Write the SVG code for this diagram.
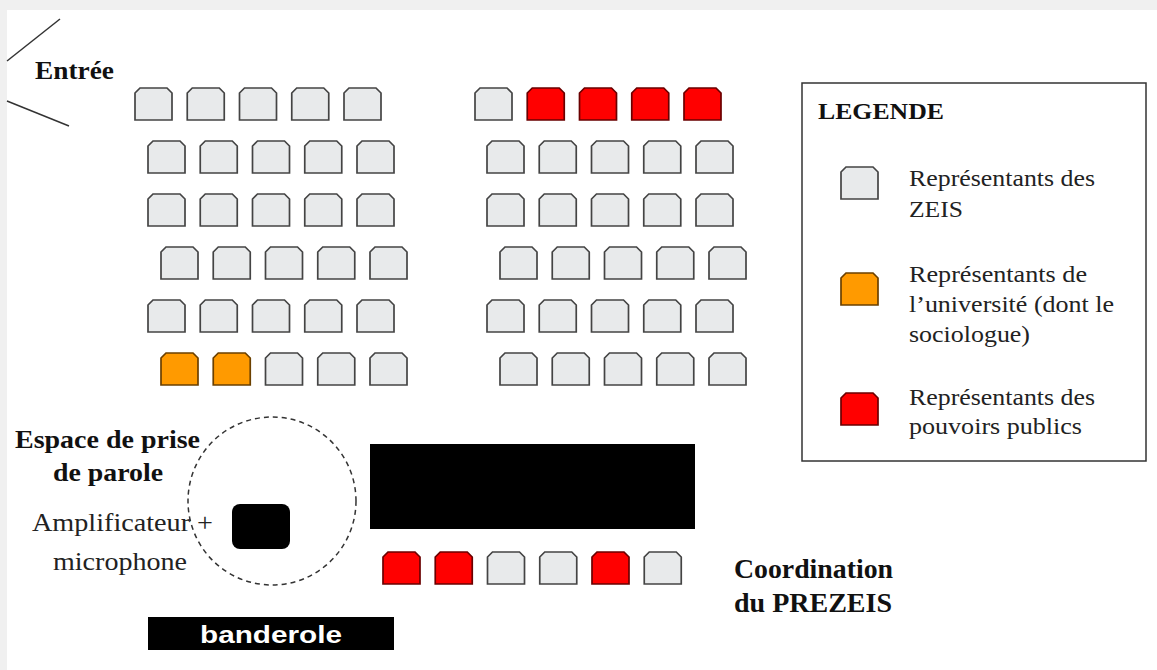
<svg xmlns="http://www.w3.org/2000/svg" xmlns:xlink="http://www.w3.org/1999/xlink" width="1157" height="670" viewBox="0 0 1157 670">
<style>
.zeis{fill:#e8eaeb;stroke:#444;stroke-width:1.7}
.univ{fill:#ff9a00;stroke:#6b4000;stroke-width:1.7}
.pub{fill:#ff0000;stroke:#6a0000;stroke-width:1.7}
.bt{font-family:"Liberation Serif","Times New Roman",serif;font-weight:bold;fill:#111}
.rt{font-family:"Liberation Serif","Times New Roman",serif;fill:#222}
.ln{stroke:#333;stroke-width:1.5;fill:none}
</style>
<defs>
<path id="seat" d="M0,32 L0,5 L5,0 L32,0 L37,5 L37,32 Z"/>
</defs>
<rect x="0" y="0" width="1157" height="670" fill="#f0f0f0"/>
<rect x="7" y="10" width="1150" height="660" fill="#ffffff"/>

<g id="entree">
<line class="ln" x1="60" y1="19" x2="7" y2="61"/>
<line class="ln" x1="7" y1="101" x2="69" y2="126"/>
<text class="bt" x="35" y="79" font-size="25" textLength="79" lengthAdjust="spacingAndGlyphs">Entrée</text>
</g>

<g id="seats-left">
<g id="sL1"><use xlink:href="#seat" class="zeis" x="135" y="88"/><use xlink:href="#seat" class="zeis" x="187.25" y="88"/><use xlink:href="#seat" class="zeis" x="239.5" y="88"/><use xlink:href="#seat" class="zeis" x="291.75" y="88"/><use xlink:href="#seat" class="zeis" x="344" y="88"/></g>
<g id="sL2"><use xlink:href="#seat" class="zeis" x="148" y="141"/><use xlink:href="#seat" class="zeis" x="200.25" y="141"/><use xlink:href="#seat" class="zeis" x="252.5" y="141"/><use xlink:href="#seat" class="zeis" x="304.75" y="141"/><use xlink:href="#seat" class="zeis" x="357" y="141"/></g>
<g id="sL3"><use xlink:href="#seat" class="zeis" x="148" y="194"/><use xlink:href="#seat" class="zeis" x="200.25" y="194"/><use xlink:href="#seat" class="zeis" x="252.5" y="194"/><use xlink:href="#seat" class="zeis" x="304.75" y="194"/><use xlink:href="#seat" class="zeis" x="357" y="194"/></g>
<g id="sL4"><use xlink:href="#seat" class="zeis" x="161" y="247"/><use xlink:href="#seat" class="zeis" x="213.25" y="247"/><use xlink:href="#seat" class="zeis" x="265.5" y="247"/><use xlink:href="#seat" class="zeis" x="317.75" y="247"/><use xlink:href="#seat" class="zeis" x="370" y="247"/></g>
<g id="sL5"><use xlink:href="#seat" class="zeis" x="148" y="300"/><use xlink:href="#seat" class="zeis" x="200.25" y="300"/><use xlink:href="#seat" class="zeis" x="252.5" y="300"/><use xlink:href="#seat" class="zeis" x="304.75" y="300"/><use xlink:href="#seat" class="zeis" x="357" y="300"/></g>
<g id="sL6"><use xlink:href="#seat" class="univ" x="161" y="353"/><use xlink:href="#seat" class="univ" x="213.25" y="353"/><use xlink:href="#seat" class="zeis" x="265.5" y="353"/><use xlink:href="#seat" class="zeis" x="317.75" y="353"/><use xlink:href="#seat" class="zeis" x="370" y="353"/></g>
</g>

<g id="seats-right">
<g id="sR1"><use xlink:href="#seat" class="zeis" x="475" y="88"/><use xlink:href="#seat" class="pub" x="527.25" y="88"/><use xlink:href="#seat" class="pub" x="579.5" y="88"/><use xlink:href="#seat" class="pub" x="631.75" y="88"/><use xlink:href="#seat" class="pub" x="684" y="88"/></g>
<g id="sR2"><use xlink:href="#seat" class="zeis" x="487" y="141"/><use xlink:href="#seat" class="zeis" x="539.25" y="141"/><use xlink:href="#seat" class="zeis" x="591.5" y="141"/><use xlink:href="#seat" class="zeis" x="643.75" y="141"/><use xlink:href="#seat" class="zeis" x="696" y="141"/></g>
<g id="sR3"><use xlink:href="#seat" class="zeis" x="487" y="194"/><use xlink:href="#seat" class="zeis" x="539.25" y="194"/><use xlink:href="#seat" class="zeis" x="591.5" y="194"/><use xlink:href="#seat" class="zeis" x="643.75" y="194"/><use xlink:href="#seat" class="zeis" x="696" y="194"/></g>
<g id="sR4"><use xlink:href="#seat" class="zeis" x="500" y="247"/><use xlink:href="#seat" class="zeis" x="552.25" y="247"/><use xlink:href="#seat" class="zeis" x="604.5" y="247"/><use xlink:href="#seat" class="zeis" x="656.75" y="247"/><use xlink:href="#seat" class="zeis" x="709" y="247"/></g>
<g id="sR5"><use xlink:href="#seat" class="zeis" x="487" y="300"/><use xlink:href="#seat" class="zeis" x="539.25" y="300"/><use xlink:href="#seat" class="zeis" x="591.5" y="300"/><use xlink:href="#seat" class="zeis" x="643.75" y="300"/><use xlink:href="#seat" class="zeis" x="696" y="300"/></g>
<g id="sR6"><use xlink:href="#seat" class="zeis" x="500" y="353"/><use xlink:href="#seat" class="zeis" x="552.25" y="353"/><use xlink:href="#seat" class="zeis" x="604.5" y="353"/><use xlink:href="#seat" class="zeis" x="656.75" y="353"/><use xlink:href="#seat" class="zeis" x="709" y="353"/></g>
</g>

<g id="legend">
<rect x="802" y="83" width="344" height="378" fill="#fff" stroke="#333" stroke-width="1.5"/>
<text class="bt" x="818" y="119" font-size="23" textLength="126" lengthAdjust="spacingAndGlyphs">LEGENDE</text>
<use xlink:href="#seat" class="zeis" x="841" y="167"/>
<text class="rt" x="909" y="186" font-size="24" textLength="186" lengthAdjust="spacingAndGlyphs">Représentants des</text>
<text class="rt" x="909" y="217" font-size="24" textLength="54" lengthAdjust="spacingAndGlyphs">ZEIS</text>
<use xlink:href="#seat" class="univ" x="841" y="273"/>
<text class="rt" x="909" y="282" font-size="24" textLength="178" lengthAdjust="spacingAndGlyphs">Représentants de</text>
<text class="rt" x="909" y="312" font-size="24" textLength="205" lengthAdjust="spacingAndGlyphs">l’université (dont le</text>
<text class="rt" x="909" y="342" font-size="24" textLength="121" lengthAdjust="spacingAndGlyphs">sociologue)</text>
<use xlink:href="#seat" class="pub" x="841" y="393"/>
<text class="rt" x="909" y="405" font-size="24" textLength="186" lengthAdjust="spacingAndGlyphs">Représentants des</text>
<text class="rt" x="909" y="434" font-size="24" textLength="173" lengthAdjust="spacingAndGlyphs">pouvoirs publics</text>
</g>

<g id="espace-parole">
<circle cx="272" cy="501" r="84" fill="none" stroke="#333" stroke-width="1.5" stroke-dasharray="5,4"/>
<text class="bt" x="15" y="448" font-size="25" textLength="185" lengthAdjust="spacingAndGlyphs">Espace de prise</text>
<text class="bt" x="53" y="481" font-size="25" textLength="110" lengthAdjust="spacingAndGlyphs">de parole</text>
</g>

<g id="amplificateur">
<rect x="232" y="504" width="58" height="45" rx="8" fill="#000"/>
<text class="rt" x="32" y="531" font-size="26" textLength="181" lengthAdjust="spacingAndGlyphs">Amplificateur +</text>
<text class="rt" x="53" y="570" font-size="26" textLength="134" lengthAdjust="spacingAndGlyphs">microphone</text>
</g>

<g id="table">
<rect x="370" y="444" width="325" height="85" fill="#000"/>
</g>

<g id="coordination">
<use xlink:href="#seat" class="pub" x="383" y="552"/>
<use xlink:href="#seat" class="pub" x="435.25" y="552"/>
<use xlink:href="#seat" class="zeis" x="487.5" y="552"/>
<use xlink:href="#seat" class="zeis" x="539.75" y="552"/>
<use xlink:href="#seat" class="pub" x="592" y="552"/>
<use xlink:href="#seat" class="zeis" x="644.25" y="552"/>
<text class="bt" x="734" y="578" font-size="27" textLength="159" lengthAdjust="spacingAndGlyphs">Coordination</text>
<text class="bt" x="734" y="612" font-size="27" textLength="158" lengthAdjust="spacingAndGlyphs">du PREZEIS</text>
</g>

<g id="banderole">
<rect x="148" y="617" width="246" height="33" fill="#000"/>
<text x="200" y="643" font-family="Liberation Sans, Arial, sans-serif" font-weight="bold" font-size="23" fill="#fff" textLength="142" lengthAdjust="spacingAndGlyphs">banderole</text>
</g>

<g id="connectors"></g>
</svg>
